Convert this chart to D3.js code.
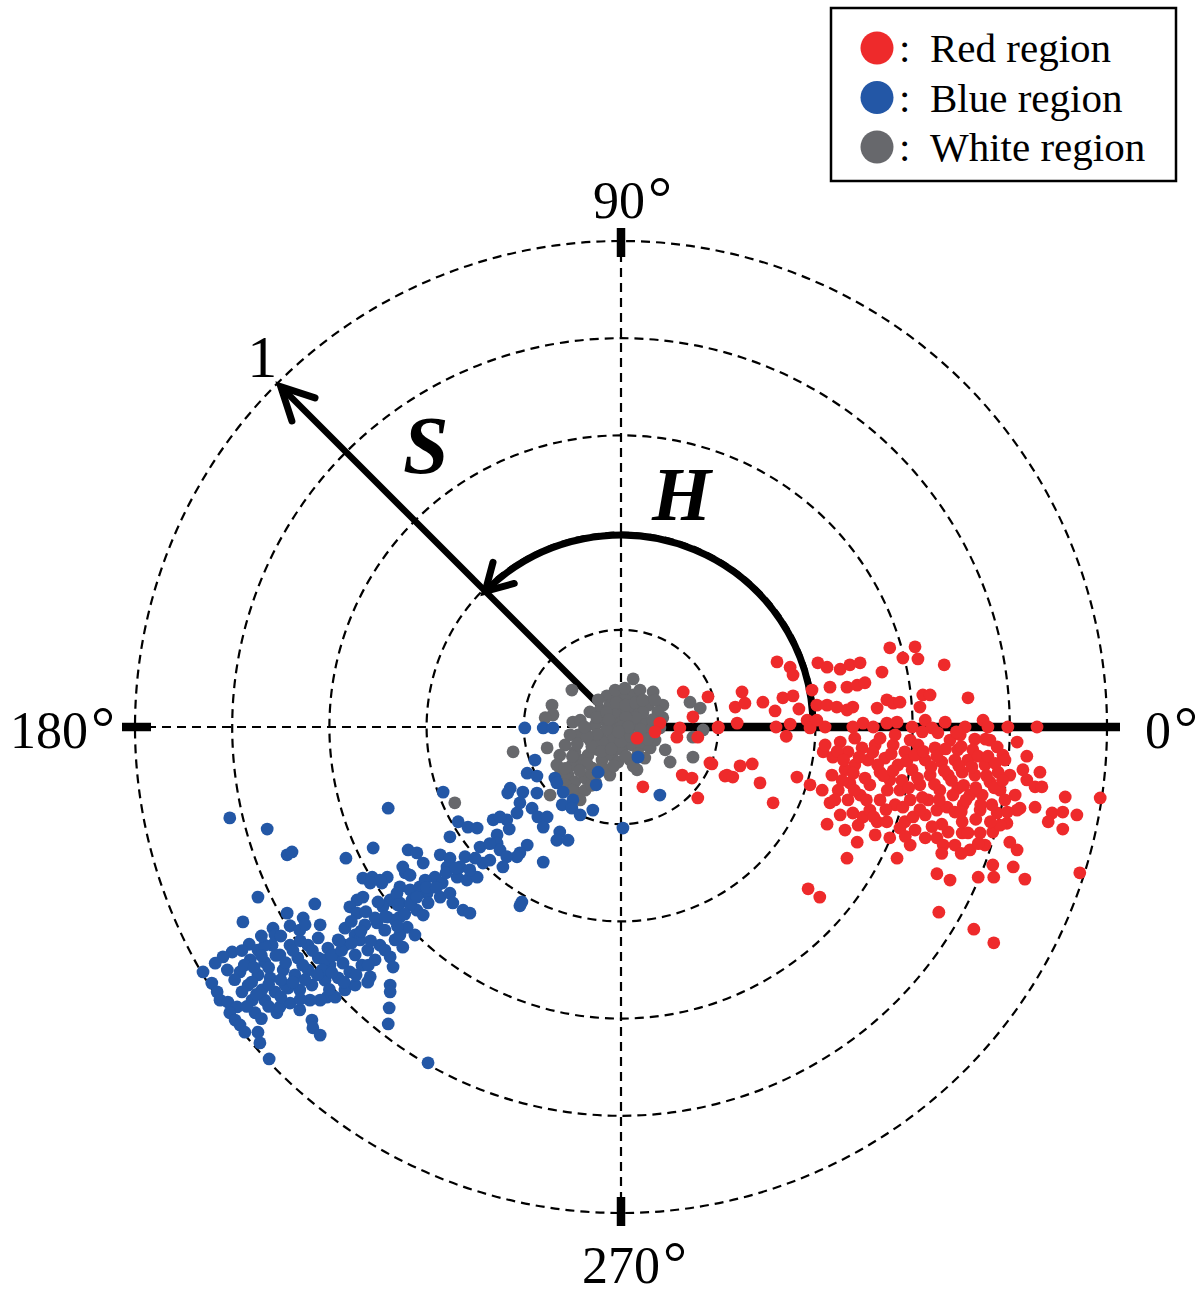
<!DOCTYPE html>
<html><head><meta charset="utf-8">
<script src="https://cdn.jsdelivr.net/npm/d3@7"></script>
<style>body{margin:0;background:#fff} svg{display:block}</style>
</head><body>
<svg id="c" width="1197" height="1295"></svg>
<script>
// Saturation rings, hue ticks, legend
const ringValues = [0.2, 0.4, 0.6, 0.8, 1.0];
const angleTicks = [0, 90, 180, 270];
const angleLabels = ["0", "90", "180", "270"];
const legendLabels = ["Red region", "Blue region", "White region"];
const seriesColors = ["#EE2A2B", "#2357A6", "#67686C"];

// Points as chroma components [S·cos(H), S·sin(H)]
const redPoints = [
[.128,.072],[.179,.062],[.148,.021],[.080,.008],[.070,-.010],[.033,-.023],[.121,-.002],[.115,-.021],[.158,-.021],[.200,-.002],[.183,-.074],[.126,-.099],[.146,-.105],[.214,-.101],[.045,-.123],[.158,-.146],
[.321,.134],[.348,.123],[.354,.107],[.405,.132],[.424,.123],[.451,.119],[.471,.128],[.492,.132],[.537,.113],[.553,.163],
[.249,.072],[.235,.041],[.255,.049],[.292,.051],[.317,.033],[.333,.060],[.354,.064],[.366,.037],[.393,.076],[.430,.082],[.465,.082],[.486,.086],[.502,.091],
[.403,.045],[.424,.045],[.444,.041],[.465,.035],[.477,.041],[.527,.039],[.547,.056],[.560,.049],
[.200,0],[.239,.008],[.319,0],[.348,.006],[.340,-.019],[.383,.014],[.389,-.002],[.420,0],[.403,.014],[.477,0],[.498,.008],[.519,0],[.547,.008],
[.187,-.076],[.218,-.099],[.230,-.103],[.245,-.080],[.270,-.076],[.286,-.115],[.313,-.156],[.362,-.103],[.389,-.119],[.416,-.051],
[.605,.165],[.611,.140],[.580,.142],[.665,.128],
[.574,.051],[.621,.066],[.636,.066],[.615,.041],[.714,.060],
[.568,.010],[.599,0],[.626,.014],[.640,-.002],[.667,.010],[.652,-.012],[.708,0],[.745,.014],[.755,0],[.796,0],[.856,0],
[.815,-.031],[.835,-.060],[.862,-.093],[.728,-.025],[.759,-.027],[.774,-.041],[.786,-.058],[.595,-.027],[.693,-.047],[.724,-.047],
[.800,-.099],[.827,-.088],[.835,-.109],[.852,-.123],[.866,-.123],[.914,-.144],[.986,-.146],[.938,-.181],[.821,-.167],[.852,-.165],[.887,-.177],[.909,-.175],
[.424,-.200],[.486,-.237],[.465,-.270],[.385,-.333],[.409,-.350],[.553,-.228],[.568,-.270],[.650,-.302],[.677,-.315],[.654,-.381],[.726,-.416],[.767,-.444],
[.735,-.309],[.765,-.284],[.767,-.309],[.807,-.288],[.815,-.253],[.800,-.237],[.650,-.228],[.663,-.243],[.673,-.216],[.702,-.218],[.714,-.218],[.739,-.218],[.765,-.216],[.702,-.195],
[.430,-.156],[.477,-.177],[.498,-.185],[.527,-.195],[.547,-.195],[.584,-.195],[.601,-.185],[.650,-.171],[.671,-.165],[.704,-.160],[.739,-.171],[.774,-.177],[.794,-.198],[.815,-.171],
[.944,-.300],[.909,-.210],[.879,-.195],[.831,-.313],
[.420,-.037],[.436,-.062],[.451,-.031],[.467,-.051],[.481,-.078],[.461,-.088],[.434,-.099],[.447,-.130],[.471,-.115],[.496,-.043],[.508,-.068],[.523,-.037],[.533,-.093],[.512,-.119],[.492,-.140],[.467,-.150],[.543,-.064],[.560,-.037],[.570,-.078],[.584,-.051],[.553,-.109],[.574,-.130],[.599,-.088],[.611,-.037],[.626,-.068],[.636,-.099],[.615,-.119],[.595,-.150],[.564,-.160],[.533,-.150],[.646,-.043],[.660,-.072],[.677,-.027],[.673,-.099],[.656,-.130],[.632,-.150],[.687,-.068],[.702,-.093],[.693,-.126],[.714,-.068],[.728,-.099],[.718,-.140],[.749,-.078],[.759,-.113],[.743,-.140],[.776,-.093],[.780,-.130],[.763,-.160],[.687,-.175],[.626,-.181],[.605,-.212],[.574,-.208],[.512,-.171],[.488,-.202],[.451,-.181],[.440,-.150],[.414,-.130],[.461,-.212],[.523,-.222],[.595,-.243],[.626,-.228],[.687,-.243],[.718,-.253],[.749,-.243],[.780,-.202],[.790,-.150],[.811,-.140],[.790,-.068],[.698,-.016],[.564,-.016],[.533,-.023],[.481,-.023],
[.445,-.050],[.458,-.068],[.478,-.095],[.490,-.062],[.502,-.105],[.518,-.052],[.528,-.078],[.540,-.100],[.548,-.130],[.556,-.055],[.560,-.090],[.578,-.110],[.588,-.070],[.592,-.125],[.605,-.058],[.610,-.105],[.620,-.145],[.622,-.050],[.638,-.082],[.645,-.118],[.650,-.060],[.655,-.150],[.665,-.090],[.668,-.045],[.680,-.110],[.683,-.140],[.695,-.080],[.700,-.040],[.705,-.120],[.710,-.150],[.722,-.082],[.730,-.125],[.735,-.060],[.740,-.160],[.752,-.100],[.755,-.060],[.768,-.125],[.770,-.075],[.785,-.110],[.795,-.175],[.545,-.170],[.580,-.165],[.615,-.170],[.660,-.200],[.700,-.175],[.730,-.190],[.760,-.195],[.640,-.205],[.585,-.225],[.480,-.130],[.455,-.110],[.505,-.150],[.520,-.185],[.690,-.010],[.620,-.010],[.750,-.025],[.735,-.240],[.660,-.260],[.700,-.260]
];

const bluePoints = [
[-.198,-.002],[-.160,-.002],[-.140,-.002],[-.177,-.068],[-.193,-.095],[-.173,-.101],[-.228,-.126],[-.233,-.136],[-.202,-.134],[-.173,-.136],[-.136,-.105],[-.132,-.115],[-.119,-.134],[-.099,-.150],[-.121,-.160],[-.101,-.167],[-.084,-.181],[-.058,-.171],[-.051,-.119],[-.047,-.093],[.035,-.062],[.080,-.140],[.004,-.208],
[-.366,-.134],[-.479,-.167],[-.208,-.156],[-.183,-.167],[-.214,-.177],[-.235,-.191],[-.263,-.191],[-.249,-.185],[-.171,-.185],[-.152,-.185],[-.160,-.206],[-.126,-.216],[-.132,-.233],[-.109,-.233],
[-.335,-.195],[-.315,-.206],[-.296,-.208],[-.352,-.226],[-.290,-.247],[-.255,-.222],[-.255,-.239],[-.249,-.253],[-.193,-.243],[-.208,-.259],[-.214,-.267],[-.160,-.278],[-.235,-.267],[-.243,-.288],[-.270,-.274],[-.284,-.280],[-.321,-.267],[-.372,-.263],[-.352,-.270],[-.438,-.253],[-.420,-.259],[-.407,-.280],[-.444,-.300],[-.481,-.309],[-.492,-.321],[-.383,-.309],[-.368,-.321],[-.337,-.309],[-.317,-.315],[-.296,-.309],[-.358,-.288],[-.331,-.288],[-.311,-.294],
[-.455,-.329],[-.434,-.335],[-.414,-.329],[-.399,-.342],[-.372,-.350],[-.352,-.342],[-.346,-.362],[-.325,-.377],[-.311,-.383],[-.397,-.362],[-.204,-.360],[-.208,-.368],[-.475,-.356],[-.455,-.362],[-.430,-.356],[-.420,-.377],[-.481,-.391],[-.455,-.391],[-.407,-.387],
[-.805,-.187],[-.728,-.210],[-.687,-.263],[-.677,-.257],[-.510,-.249],[-.566,-.270],[-.531,-.311],[-.512,-.309],[-.496,-.315],[-.516,-.321],[-.747,-.350],[-.630,-.364],[-.778,-.401],[-.687,-.383],[-.681,-.409],[-.661,-.418],[-.654,-.393],[-.650,-.407],[-.716,-.414],[-.765,-.447],[-.800,-.463],[-.819,-.473],[-.835,-.486],[-.860,-.504],[-.842,-.527],[-.831,-.545],[-.825,-.562],[-.809,-.566],[-.790,-.576],[-.805,-.588],[-.794,-.603],[-.784,-.613],[-.774,-.628],[-.747,-.628],[-.743,-.650],[-.724,-.683],[-.753,-.588],[-.733,-.562],[-.708,-.588],[-.702,-.576],[-.636,-.603],[-.634,-.619],[-.619,-.634],[-.605,-.556],[-.588,-.556],[-.516,-.514],[-.521,-.525],[-.475,-.531],[-.475,-.545],[-.477,-.578],[-.479,-.611],[-.543,-.356],[-.531,-.350],[-.558,-.370],[-.543,-.383],[-.490,-.370],[-.449,-.288],[-.461,-.342],[-.440,-.412],[-.502,-.403],[-.449,-.453],[-.475,-.473],[-.469,-.494],[-.397,-.691],
[-.763,-.479],[-.747,-.459],[-.733,-.484],[-.718,-.449],[-.702,-.469],[-.681,-.449],[-.665,-.475],[-.644,-.449],[-.623,-.434],[-.603,-.455],[-.582,-.438],[-.568,-.414],[-.547,-.428],[-.527,-.407],[-.506,-.393],[-.486,-.418],[-.465,-.397],[-.496,-.449],[-.521,-.459],[-.547,-.469],[-.572,-.486],[-.599,-.490],[-.623,-.475],[-.644,-.500],[-.671,-.510],[-.695,-.500],[-.722,-.516],[-.747,-.510],[-.767,-.531],[-.739,-.541],[-.712,-.545],[-.685,-.537],[-.661,-.541],[-.636,-.531],[-.609,-.521],[-.582,-.516],[-.558,-.504],[-.533,-.490],[-.506,-.479],[-.486,-.459],[-.465,-.438],[-.784,-.504],[-.759,-.562],[-.681,-.568],[-.661,-.582],[-.619,-.562],[-.568,-.541],[-.547,-.531],[-.609,-.479],[-.588,-.469],[-.568,-.449],[-.434,-.366],[-.424,-.428],[-.459,-.366],[-.434,-.305],[-.403,-.315],[-.455,-.428],[-.537,-.438],[-.619,-.407],[-.712,-.428],[-.733,-.449],[-.691,-.531],[-.640,-.562],
[-.775,-.490],[-.755,-.495],[-.740,-.470],[-.725,-.495],[-.710,-.470],[-.690,-.485],[-.675,-.460],[-.655,-.490],[-.635,-.460],[-.615,-.500],[-.595,-.470],[-.575,-.460],[-.555,-.445],[-.535,-.420],[-.515,-.440],[-.795,-.520],[-.780,-.545],[-.760,-.525],[-.750,-.550],[-.725,-.530],[-.700,-.520],[-.675,-.525],[-.650,-.520],[-.625,-.510],[-.595,-.505],[-.570,-.525],[-.545,-.510],[-.520,-.490],[-.700,-.555],[-.725,-.575],[-.770,-.575],[-.740,-.600],[-.660,-.560],[-.600,-.540],[-.580,-.440],[-.555,-.400],[-.525,-.380],[-.500,-.360],[-.485,-.390],[-.460,-.410],[-.445,-.385],[-.420,-.350],[-.400,-.330],[-.380,-.330],[-.360,-.300],[-.340,-.290],[-.300,-.270],[-.270,-.240],[-.230,-.210],[-.660,-.440],[-.700,-.430],[-.740,-.430],[-.780,-.460],[-.810,-.500]
];

const grayPoints = [
[.025,.099],[-.101,.076],[.066,.072],[.025,.066],[-.029,.064],[-.006,.062],[-.142,.045],[-.140,.025],[-.156,.019],[.086,.045],[.053,.051],[.142,.051],[.163,.039],[.148,-.021],[.169,-.006],[.086,.019],[-.099,.010],[-.222,-.051],[-.152,-.043],[.091,-.047],[.101,-.072],[.148,-.062],[.033,-.088],[-.023,-.099],[-.126,-.099],[-.146,-.140],[-.088,-.136],[-.342,-.156],
[-.043,.035],[-.023,.045],[-.002,.039],[.019,.035],[.039,.031],[.008,.056],[-.012,.025],[-.033,.014],[-.053,.004],[-.074,-.006],[-.088,-.016],[-.064,-.027],[-.043,-.016],[-.019,-.002],[.002,.010],[.023,.014],[.049,.010],[.060,-.006],[.039,-.016],[.014,-.010],[-.006,-.027],[-.027,-.037],[-.047,-.047],[-.068,-.058],[-.084,-.068],[-.101,-.078],[-.109,-.099],[-.095,-.113],[-.074,-.105],[-.060,-.084],[-.039,-.068],[-.019,-.058],[.002,-.047],[.023,-.037],[.043,-.037],[.060,-.043],[.070,-.027],[.049,-.064],[.019,-.068],[-.006,-.072],[-.031,-.088],[-.053,-.113],[-.074,-.130],[-.084,-.150],[-.115,-.037],[-.105,-.016],[-.084,.014],[-.064,.031],[-.047,.056],[-.012,.076],[.008,.080],[.039,.076],[.056,.045],[.076,.031],[.080,-.002],[.029,.004],[-.019,-.023],[-.039,-.031],[-.095,-.051],[-.126,-.058],[-.132,-.078],[-.115,-.119],
[-.050,.020],[-.030,.030],[-.010,.050],[.010,.045],[.030,.050],[.045,.030],[.030,.020],[.010,.020],[-.010,.005],[-.030,-.005],[-.050,-.015],[-.060,-.040],[-.040,-.050],[-.020,-.045],[.000,-.030],[.020,-.020],[.040,-.005],[.055,-.025],[.035,-.055],[.010,-.060],[-.015,-.080],[-.040,-.085],[-.060,-.095],[-.070,-.075],[-.085,-.090],[-.090,-.035],[-.070,-.020],[.000,.000],[-.025,.015],[.015,.000],[.045,.055],[.065,.015],[-.005,-.010],[-.075,.000],[-.100,-.060],[-.060,-.120],[-.100,-.130],[.070,.055],[.025,-.080],[-.115,-.085]
];

const cx = 621, cy = 727, R = 486;
const FONT = "'Liberation Serif','Times New Roman',serif";
const svg = d3.select("#c");
const x = d3.scaleLinear().domain([-1, 1]).range([cx - R, cx + R]);
const y = d3.scaleLinear().domain([-1, 1]).range([cy + R, cy - R]);
const r = d3.scaleLinear().domain([0, 1]).range([0, R]);
const rad = d => d * Math.PI / 180;
const px = (s, a) => x(s * Math.cos(rad(a)));
const py = (s, a) => y(s * Math.sin(rad(a)));

// grid rings
svg.append("g").selectAll("circle").data(ringValues).join("circle")
  .attr("cx", x(0)).attr("cy", y(0)).attr("r", d => r(d))
  .attr("fill", "none").attr("stroke", "#000").attr("stroke-width", 2.2)
  .attr("stroke-dasharray", "9,6");

// radial dashed spokes
svg.append("g").selectAll("line").data(angleTicks).join("line")
  .attr("x1", x(0)).attr("y1", y(0))
  .attr("x2", d => px(1, d)).attr("y2", d => py(1, d))
  .attr("stroke", "#000").attr("stroke-width", 2.2).attr("stroke-dasharray", "9,6");

// thick 0° reference line
svg.append("line").attr("x1", x(0)).attr("y1", y(0))
  .attr("x2", x(0) + r(1) + 13).attr("y2", y(0))
  .attr("stroke", "#000").attr("stroke-width", 8.5);

// ticks on outer ring
svg.append("g").selectAll("line").data(angleTicks.slice(1)).join("line")
  .attr("x1", d => x(0) + (r(1) - 16) * Math.cos(rad(d)))
  .attr("y1", d => y(0) - (r(1) - 16) * Math.sin(rad(d)))
  .attr("x2", d => x(0) + (r(1) + 13) * Math.cos(rad(d)))
  .attr("y2", d => y(0) - (r(1) + 13) * Math.sin(rad(d)))
  .attr("stroke", "#000").attr("stroke-width", 8.5);

// S arrow (saturation radius) at 135°
const sA = 135, sTip = 0.99;
svg.append("line").attr("x1", x(0)).attr("y1", y(0))
  .attr("x2", px(sTip, sA)).attr("y2", py(sTip, sA))
  .attr("stroke", "#000").attr("stroke-width", 6.5);
function chevron(tx, ty, backAngleSvg, len, spread) {
  const p = d3.path();
  const a1 = backAngleSvg - rad(spread), a2 = backAngleSvg + rad(spread);
  p.moveTo(tx + len * Math.cos(a1), ty + len * Math.sin(a1));
  p.lineTo(tx, ty);
  p.lineTo(tx + len * Math.cos(a2), ty + len * Math.sin(a2));
  svg.append("path").attr("d", p.toString()).attr("fill", "none")
    .attr("stroke", "#000").attr("stroke-width", 7)
    .attr("stroke-linecap", "round").attr("stroke-linejoin", "miter");
}
chevron(px(sTip, sA), py(sTip, sA), rad(45), 36, 27);

// H arc from 0° to 135° (counter-clockwise)
const hR = 0.395;
const arcP = d3.path();
arcP.moveTo(x(0) + r(hR), y(0));
arcP.arc(x(0), y(0), r(hR), 0, -rad(135), true);
svg.append("path").attr("d", arcP.toString()).attr("fill", "none")
  .attr("stroke", "#000").attr("stroke-width", 7);
chevron(px(hR, 135), py(hR, 135), rad(-45), 30, 30);

// points
const layers = [
  {pts: grayPoints, c: seriesColors[2]},
  {pts: bluePoints, c: seriesColors[1]},
  {pts: redPoints, c: seriesColors[0]}
];
layers.forEach(L => {
  svg.append("g").selectAll("circle").data(L.pts).join("circle")
    .attr("cx", d => x(d[0])).attr("cy", d => y(d[1])).attr("r", 6.4)
    .attr("fill", L.c);
});

// angle labels (number + degree ring)
const labelPos = [
  {dx: r(1) + 38, dy: 21},
  {dx: -28, dy: -r(1) - 23},
  {dx: -r(1) - 125, dy: 21},
  {dx: -39, dy: r(1) + 70}
];
const lt = svg.append("g").selectAll("text").data(angleLabels).join("text")
  .attr("x", (d, i) => x(0) + labelPos[i].dx)
  .attr("y", (d, i) => y(0) + labelPos[i].dy)
  .attr("font-family", FONT).attr("font-size", 52).attr("fill", "#000");
lt.append("tspan").text(d => d);
lt.append("tspan").attr("dx", 3).attr("font-size", 60).text("°");

// "1" label
svg.append("text").attr("x", px(1, sA) - 30).attr("y", py(1, sA) - 6)
  .attr("font-family", FONT).attr("font-size", 60).text("1");
// S and H
svg.append("text").attr("x", 403).attr("y", 473)
  .attr("font-family", FONT).attr("font-size", 82).attr("font-weight", "bold")
  .attr("font-style", "italic").text("S");
svg.append("text").attr("x", 652).attr("y", 520)
  .attr("font-family", FONT).attr("font-size", 76).attr("font-weight", "bold")
  .attr("font-style", "italic").text("H");

// legend
const lg = svg.append("g");
lg.append("rect").attr("x", 831).attr("y", 8).attr("width", 345).attr("height", 173)
  .attr("fill", "#fff").attr("stroke", "#000").attr("stroke-width", 2.5);
const rows = lg.selectAll("g.row").data(legendLabels).join("g").attr("class", "row")
  .attr("transform", (d, i) => `translate(0,${48 + i * 49.5})`);
rows.append("circle").attr("cx", 877).attr("cy", 0).attr("r", 16.5)
  .attr("fill", (d, i) => seriesColors[i]);
rows.append("text").attr("x", 899).attr("y", 14).attr("font-family", FONT)
  .attr("font-size", 41).text(":");
rows.append("text").attr("x", 930).attr("y", 14).attr("font-family", FONT)
  .attr("font-size", 41).text(d => d);
</script>
</body></html>
